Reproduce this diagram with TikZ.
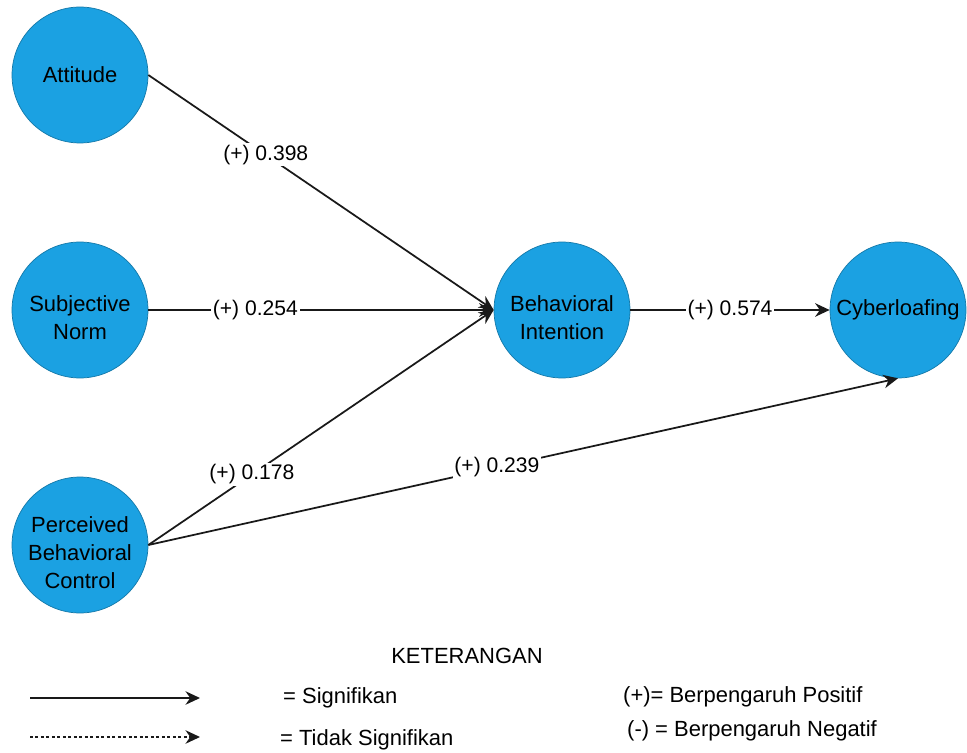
\documentclass[tikz,border=0pt]{standalone}
\usepackage{fontspec}
\setmainfont{Liberation Sans}
\usetikzlibrary{arrows.meta, positioning}
\definecolor{constructblue}{HTML}{1BA1E2}

\begin{document}
\begin{tikzpicture}[x=0.02cm, y=-0.02cm, font=\fontsize{12.5}{16}\selectfont,
  latent/.style={circle, fill=constructblue, draw=constructblue!75!black, line width=0.4pt,
    minimum size=2.72cm, inner sep=0pt, align=center},
  caption/.style={align=center, yshift=-0.16cm},
  effect/.style={-{Stealth[length=0.29cm, width=0.27cm]}, line width=0.035cm, draw=black!90},
  coef/.style={fill=white, inner sep=1pt, font=\fontsize{12}{14}\selectfont}]
  \useasboundingbox (0,0) rectangle (967,753);
  % constructs
  \node (att) [latent] at (80,75) {Attitude};
  \node (sn) [latent, label={[caption]center:{Subjective\\Norm}}] at (80,310) {};
  \node (pbc) [latent, label={[caption]center:{Perceived\\Behavioral\\Control}}] at (80,545) {};
  \node (bi) [latent, label={[caption]center:{Behavioral\\Intention}}] at (562,310) {};
  \node (cyb) [latent] at (898,310) {Cyberloafing};
  % paths
  \draw[effect] (att.east) -- node[coef, pos=0.34] {(+) 0.398} (bi.west);
  \draw[effect] (sn) -- node[coef, pos=0.31] {(+) 0.254} (bi);
  \draw[effect] (pbc.east) -- node[coef, pos=0.30] {(+) 0.178} (bi.west);
  \draw[effect] (bi) -- node[coef, pos=0.5] {(+) 0.574} (cyb);
  \draw[effect] (pbc.east) -- node[coef, pos=0.465] {(+) 0.239} (cyb.south);
  % legend
  \node (ket) at (467,656) {KETERANGAN};
  \coordinate (sigstart) at (30,698);
  \coordinate (sigend) at (200,698);
  \coordinate (nsstart) at (30,737);
  \coordinate (nsend) at (200,737);
  \draw[effect] (sigstart) -- (sigend);
  \draw[effect, dash pattern=on 0.06cm off 0.05cm] (nsstart) -- (nsend);
  \node (sig) [anchor=west] at (277,698) {= Signifikan};
  \node (nsig) [anchor=west] at (274,740) {= Tidak Signifikan};
  \node (plus) [anchor=west] at (617,697) {(+)= Berpengaruh Positif};
  \node (minus) [anchor=west] at (621,731) {(-) = Berpengaruh Negatif};
\end{tikzpicture}
\end{document}
